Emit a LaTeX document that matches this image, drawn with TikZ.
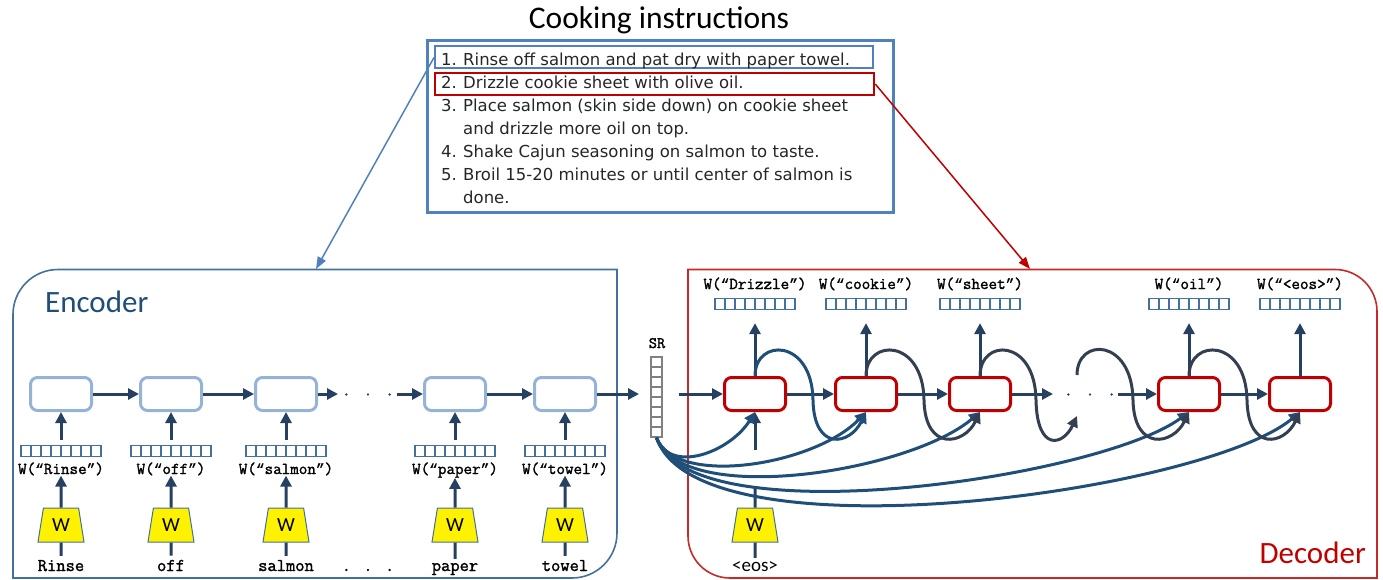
\documentclass[tikz,border=0pt]{standalone}
\usepackage{fontspec}
\setmainfont{DejaVu Sans}
\newfontfamily\calib{Carlito}
\newfontfamily\dvs{DejaVu Sans}
\newfontfamily\monob[FakeBold=1.6]{Latin Modern Mono}
\newfontfamily\qmono[FakeBold=0.5]{Liberation Mono}
\newcommand{\myoq}{{\qmono\fontsize{14.5}{14.5}\selectfont “}}
\newcommand{\mycq}{{\qmono\fontsize{14.5}{14.5}\selectfont ”}}
\usetikzlibrary{arrows.meta,shapes.geometric,calc}
\definecolor{navy}{RGB}{38,64,97}
\definecolor{loopblue}{RGB}{31,78,121}
\definecolor{loopdark}{RGB}{52,64,82}
\definecolor{arcblue}{RGB}{31,78,121}
\definecolor{encc}{RGB}{149,179,215}
\definecolor{decc}{RGB}{192,0,0}
\definecolor{vecc}{RGB}{65,113,156}
\definecolor{instc}{RGB}{79,129,189}
\definecolor{encframe}{RGB}{65,113,156}
\definecolor{decframe}{RGB}{200,40,40}
\definecolor{enctxt}{RGB}{31,78,121}
\definecolor{dectxt}{RGB}{192,0,0}
\definecolor{txtc}{RGB}{38,38,38}
\definecolor{srgray}{RGB}{128,128,128}
\begin{document}
\begin{tikzpicture}[x=1pt,y=-1pt,
  tip/.style={-{Triangle[length=11pt,width=11pt]}},
  arr/.style={draw=navy,line width=3pt,tip},
  ln/.style={draw=navy,line width=3pt},
  encell/.style={draw=encc,line width=3pt,rounded corners=7pt,fill=white,minimum width=61pt,minimum height=33pt,inner sep=0pt},
  decell/.style={draw=decc,line width=3pt,rounded corners=7pt,fill=white,minimum width=61pt,minimum height=33pt,inner sep=0pt},
  vecbar/.style={draw=vecc,line width=1.2pt,fill=white,minimum width=80pt,minimum height=11pt,inner sep=0pt,
    path picture={\foreach \i in {1,...,7}{\draw[vecc,line width=1.2pt] ([xshift=\i*10pt]path picture bounding box.south west) -- ([xshift=\i*10pt]path picture bounding box.north west);}}},
  srbar/.style={draw=srgray,line width=1.3pt,fill=white,minimum width=11pt,minimum height=80pt,inner sep=0pt,
    path picture={\foreach \i in {1,...,7}{\draw[srgray,line width=1.3pt] ([yshift=\i*10pt]path picture bounding box.south west) -- ([yshift=\i*10pt]path picture bounding box.south east);}}},
  wtrap/.style={trapezium,trapezium left angle=78,trapezium right angle=78,trapezium stretches=true,minimum width=46pt,minimum height=34pt,draw=vecc,line width=1pt,fill=yellow,inner sep=0pt,font=\calib\fontsize{20}{20}\selectfont},
  wlab/.style={font=\monob\fontsize{16.6}{16.6}\selectfont,inner sep=0pt,anchor=base},
  word/.style={font=\monob\fontsize{18}{18}\selectfont,inner sep=0pt,anchor=base},
  loopb/.style={draw=loopblue,line width=3pt,tip},
  loopd/.style={draw=loopdark,line width=3pt,tip},
  srarc/.style={draw=arcblue,line width=3pt,tip},
  listtxt/.style={font=\dvs\fontsize{16.5}{16.5}\selectfont,inner sep=0pt,anchor=base west,text=txtc},
  ptr/.style={line width=1.5pt,-{Triangle[length=12pt,width=9pt]}}
]
\useasboundingbox (0,0) rectangle (1383,580);

% frames
\draw[encframe,line width=1.6pt] (13,578) -- (13,314.5) .. controls (13,289.6) and (33.1,269.5) .. (58,269.5) -- (617,269.5) -- (617,533) .. controls (617,557.9) and (596.9,578) .. (572,578) -- cycle;
\draw[decframe,line width=1.6pt] (688,269.5) -- (1335,269.5) .. controls (1358.2,269.5) and (1377,288.3) .. (1377,311.5) -- (1377,578) -- (730,578) .. controls (706.8,578) and (688,559.2) .. (688,536) -- cycle;

\node[font=\calib\fontsize{31}{31}\selectfont,text=enctxt,anchor=base west,inner sep=0pt] (enclabel) at (45,312) {Encoder};
\node[font=\calib\fontsize{31}{31}\selectfont,text=dectxt,anchor=base east,inner sep=0pt] (declabel) at (1366,563) {Decoder};

% instructions
\node[font=\calib\fontsize{31.5}{31.5}\selectfont,anchor=base,inner sep=0pt] (title) at (659,29) {Cooking instructions};
\node[draw=instc,line width=3pt,minimum width=466pt,minimum height=172pt,inner sep=0pt] (ibox) at (660,126.5) {};
\node[draw=instc,line width=2pt,minimum width=438pt,minimum height=22pt,inner sep=0pt] (l1box) at (654,57.5) {};
\node[draw=decc,line width=2.5pt,minimum width=439pt,minimum height=22pt,inner sep=0pt] (l2box) at (654.5,84) {};
\node[listtxt] (n1) at (441,66) {1.};
\node[listtxt] (t1) at (463,66) {Rinse off salmon and pat dry with paper towel.};
\node[listtxt] (n2) at (441,89) {2.};
\node[listtxt] (t2) at (463,89) {Drizzle cookie sheet with olive oil.};
\node[listtxt] (n3) at (441,112) {3.};
\node[listtxt] (t3) at (463,112) {Place salmon (skin side down) on cookie sheet};
\node[listtxt] (t3b) at (463,135) {and drizzle more oil on top.};
\node[listtxt] (n4) at (441,158) {4.};
\node[listtxt] (t4) at (463,158) {Shake Cajun seasoning on salmon to taste.};
\node[listtxt] (n5) at (441,181) {5.};
\node[listtxt] (t5) at (463,181) {Broil 15-20 minutes or until center of salmon is};
\node[listtxt] (t5b) at (463,204) {done.};

\coordinate (encTop) at (316,269);
\coordinate (decTop) at (1030,269);
\draw[ptr,instc] (l1box.west) -- (encTop);
\draw[ptr,decc] (l2box.east) -- (decTop);

% encoder
\foreach \n/\x/\w in {1/61/Rinse,2/171/off,3/286/salmon,4/455/paper,5/565/towel}{
  \node[encell] (e\n) at (\x,394) {};
  \node[vecbar] (ev\n) at (\x,451) {};
  \node[wlab] (el\n) at (\x,474) {W(\myoq\w\mycq)};
  \node[wtrap] (et\n) at (\x,525) {W};
  \node[word] (ew\n) at (\x,571) {\w};
  \draw[arr,shorten <=5pt] (ev\n.north) -- (e\n.south);
  \draw[arr] (et\n.north) -- (el\n.south);
  \draw[ln,shorten >=4pt] (et\n.south) -- (ew\n.north);
}
\node[word,text=navy] (edots) at (368,395.5) {. . .};
\node[word] (bdots) at (368,571) {. . .};
\coordinate (ea) at (338,394);
\coordinate (eb) at (397,394);
\draw[arr] (e1) -- (e2);
\draw[arr] (e2) -- (e3);
\draw[arr] (e3) -- (ea);
\draw[arr] (eb) -- (e4);
\draw[arr] (e4) -- (e5);

% SR
\node[srbar] (sr) at (656.5,397) {};
\node[word,font=\monob\fontsize{16}{16}\selectfont] (srlab) at (657,348) {SR};
\coordinate (srin) at (639,394);
\draw[arr] (e5) -- (srin);

% decoder
\foreach \n/\x/\w in {1/755/Drizzle,2/866/cookie,3/980/sheet,4/1189/oil,5/1300/<eos>}{
  \node[decell] (d\n) at (\x,394) {};
  \node[vecbar] (dv\n) at (\x,304) {};
  \node[wlab] (dl\n) at (\x,289) {W(\myoq\w\mycq)};
  \draw[arr,shorten >=13pt] (d\n.north) -- (dv\n.south);
}
\coordinate (da) at (679,394);
\coordinate (dd1) at (1077,416);
\coordinate (dd2) at (1077,375);
\coordinate (dx1) at (1053,394);
\coordinate (dx2) at (1118,394);
\node[word,text=navy] (ddots) at (1090,395.5) {. . .};
\draw[arr] (da) -- (d1);
\draw[arr] (d1) -- (d2);
\draw[arr] (d2) -- (d3);
\draw[arr] (d3) -- (dx1);
\draw[arr] (dx2) -- (d4);
\draw[arr] (d4) -- (d5);

% decoder input
\node[wtrap] (dt) at (755,525) {W};
\node[font=\calib\fontsize{19}{19}\selectfont,inner sep=0pt,anchor=base] (eos) at (755,571) {<eos>};
\coordinate (g1) at (755,488);
\coordinate (g2) at (755,450);
\draw[ln] (dt.north) -- (g1);
\draw[arr] (g2) -- (d1.south);
\draw[ln,shorten >=3pt] (dt.south) -- (eos.north);

% SR arcs
\draw[srarc] (sr.south) .. controls (670,475) and (730,452) .. (d1.south);
\draw[srarc] (sr.south) .. controls (676,488) and (815,465) .. (d2.south);
\draw[srarc] (sr.south) .. controls (682,508) and (910,472) .. (d3.south);
\draw[srarc] (sr.south) .. controls (690,538) and (1100,478) .. (d4.south);
\draw[srarc] (sr.south) .. controls (698,562) and (1205,492) .. (d5.south);

% feedback loops
\coordinate (m1) at (813,400);
\coordinate (m2) at (924,400);
\coordinate (m3) at (1036,400);
\coordinate (m4) at (1133,400);
\coordinate (m5) at (1247,400);
\draw[loopb] (d1.north) .. controls +(0,-38) and +(-1,-62) .. (m1) .. controls +(1,52) and +(-16,33) .. (d2.south);
\draw[loopd] (d2.north) .. controls +(0,-38) and +(-1,-62) .. (m2) .. controls +(1,52) and +(-16,33) .. (d3.south);
\draw[loopd] (d3.north) .. controls +(0,-38) and +(-1,-62) .. (m3) .. controls +(1,52) and +(-14,30) .. (dd1);
\draw[loopd] (dd2) .. controls +(0,-38) and +(-1,-62) .. (m4) .. controls +(1,52) and +(-16,33) .. (d4.south);
\draw[loopd] (d4.north) .. controls +(0,-38) and +(-1,-62) .. (m5) .. controls +(1,52) and +(-16,33) .. (d5.south);
\end{tikzpicture}
\end{document}
